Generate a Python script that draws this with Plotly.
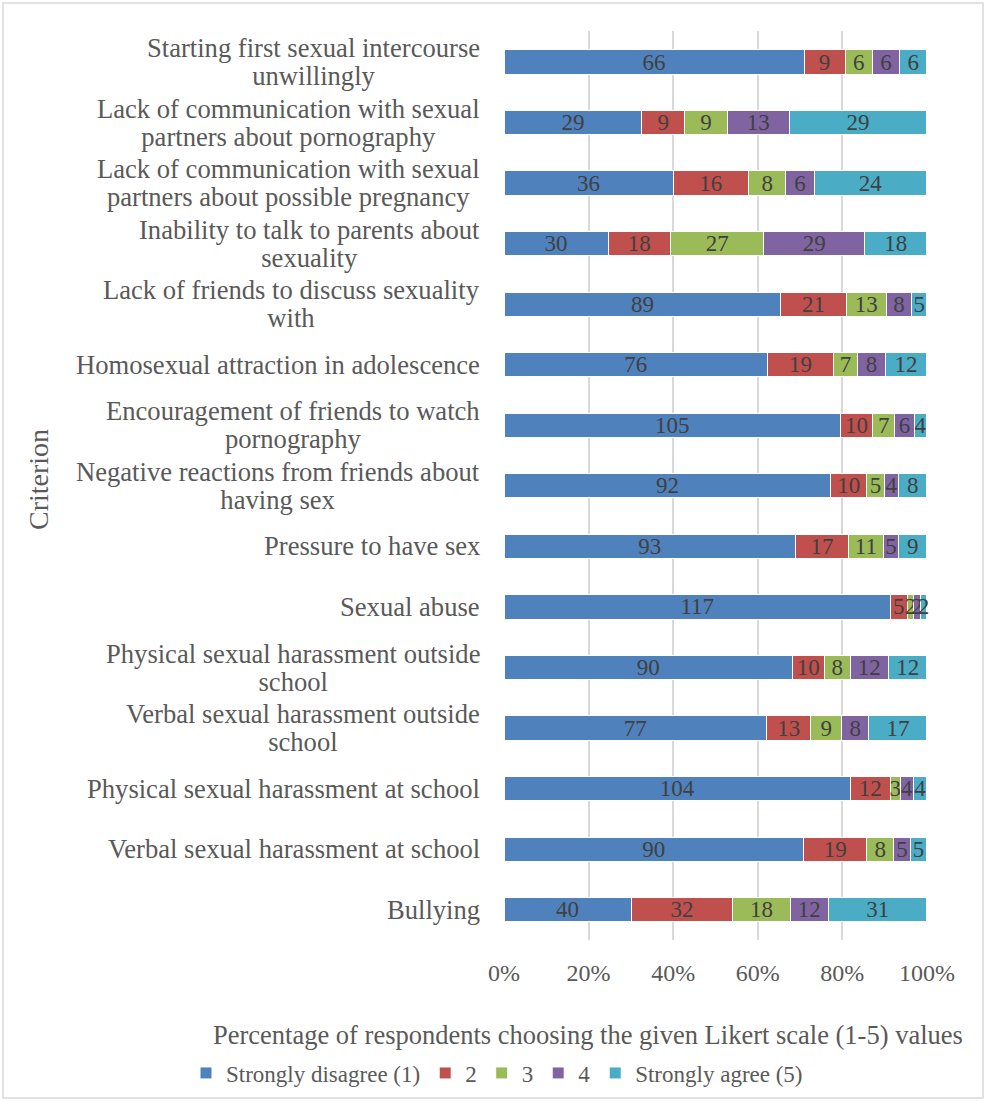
import plotly.graph_objects as go

categories = [
    "Starting first sexual intercourse<br>unwillingly",
    "Lack of communication with sexual<br>partners about pornography",
    "Lack of communication with sexual<br>partners about possible pregnancy",
    "Inability to talk to parents about<br>sexuality",
    "Lack of friends to discuss sexuality<br>with",
    "Homosexual attraction in adolescence",
    "Encouragement of friends to watch<br>pornography",
    "Negative reactions from friends about<br>having sex",
    "Pressure to have sex",
    "Sexual abuse",
    "Physical sexual harassment outside<br>school",
    "Verbal sexual harassment outside<br>school",
    "Physical sexual harassment at school",
    "Verbal sexual harassment at school",
    "Bullying",
]

series_names = ["Strongly disagree (1)", "2", "3", "4", "Strongly agree (5)"]

v1 = [66, 29, 36, 30, 89, 76, 105, 92, 93, 117, 90, 77, 104, 90, 40]
v2 = [9, 9, 16, 18, 21, 19, 10, 10, 17, 5, 10, 13, 12, 19, 32]
v3 = [6, 9, 8, 27, 13, 7, 7, 5, 11, 2, 8, 9, 3, 8, 18]
v4 = [6, 13, 6, 29, 8, 8, 6, 4, 5, 2, 12, 8, 4, 5, 12]
v5 = [6, 29, 24, 18, 5, 12, 4, 8, 9, 2, 12, 17, 4, 5, 31]

x_ticks = [0, 20, 40, 60, 80, 100]
x_tick_labels = ["0%", "20%", "40%", "60%", "80%", "100%"]

colors = ["#4F81BD", "#C0504D", "#9BBB59", "#8064A2", "#4BACC6"]

W, H = 987, 1102
ML, MR, MT, MB = 504, 60, 31, 162
PW = W - ML - MR
PH = H - MT - MB


def px_x(p):
    return (p - ML) / PW


def px_y(p):
    return (MT + PH - p) / PH


FONT = "Liberation Serif"
LABEL_SIZE = 26.6
LINE_GAP = 28  # px between label lines


def label_html(c):
    return "<br>".join(
        "<span style='font-size:%.1fpx'>%s</span>" % (LABEL_SIZE, part)
        for part in c.split("<br>")
    )


fig = go.Figure()
for name, vals, col in zip(series_names, [v1, v2, v3, v4, v5], colors):
    fig.add_trace(go.Bar(
        name=name,
        y=categories,
        x=vals,
        orientation="h",
        marker=dict(color=col, line=dict(color="white", width=1)),
        text=vals,
        texttemplate="%{text}",
        textposition="inside",
        insidetextanchor="middle",
        textangle=0,
        constraintext="none",
        insidetextfont=dict(family=FONT, size=23, color="#404040"),
        cliponaxis=False,
    ))

annotations = []
for c in categories:
    annotations.append(dict(
        x=0, xref="paper", y=c, yref="y",
        text=label_html(c), showarrow=False, xanchor="right", yanchor="middle",
        xshift=-22, align="center",
        font=dict(family=FONT, size=LINE_GAP / 1.3, color="#595959"),
    ))

annotations.append(dict(
    x=px_x(588), y=px_y(1035), xref="paper", yref="paper",
    text="Percentage of respondents choosing the given Likert scale (1-5) values",
    showarrow=False, xanchor="center", yanchor="middle",
    font=dict(family=FONT, size=26.5, color="#595959"),
))
annotations.append(dict(
    x=px_x(38), y=px_y(480), xref="paper", yref="paper",
    text="Criterion", textangle=-90,
    showarrow=False, xanchor="center", yanchor="middle",
    font=dict(family=FONT, size=28, color="#595959"),
))

fig.update_layout(
    barmode="stack",
    barnorm="percent",
    bargap=0.6,
    width=W, height=H,
    margin=dict(l=ML, r=MR, t=MT, b=MB, autoexpand=False),
    paper_bgcolor="white",
    plot_bgcolor="white",
    font=dict(family=FONT, color="#595959"),
    xaxis=dict(
        range=[0, 100.02],
        tickvals=x_ticks,
        ticktext=x_tick_labels,
        showgrid=True, gridcolor="#d9d9d9", gridwidth=2,
        zeroline=False, showline=False,
        ticks="", ticklabelstandoff=16,
        tickfont=dict(family=FONT, size=24, color="#595959"),
        fixedrange=True,
    ),
    yaxis=dict(
        categoryorder="array", categoryarray=categories,
        autorange="reversed",
        showticklabels=False, showgrid=False, zeroline=False, showline=False,
        ticks="",
    ),
    legend=dict(
        orientation="h",
        xref="paper", yref="paper",
        x=px_x(186), y=px_y(1073),
        xanchor="left", yanchor="middle",
        font=dict(family=FONT, size=23, color="#595959"),
        bgcolor="rgba(0,0,0,0)",
        traceorder="normal",
    ),
    annotations=annotations,
    shapes=[dict(
        type="rect", xref="paper", yref="paper",
        x0=px_x(3), x1=px_x(983), y0=px_y(1098), y1=px_y(3),
        line=dict(color="#d9d9d9", width=1.5), fillcolor="rgba(0,0,0,0)",
        layer="below",
    )],
    showlegend=True,
)

fig.write_html("out.html")
